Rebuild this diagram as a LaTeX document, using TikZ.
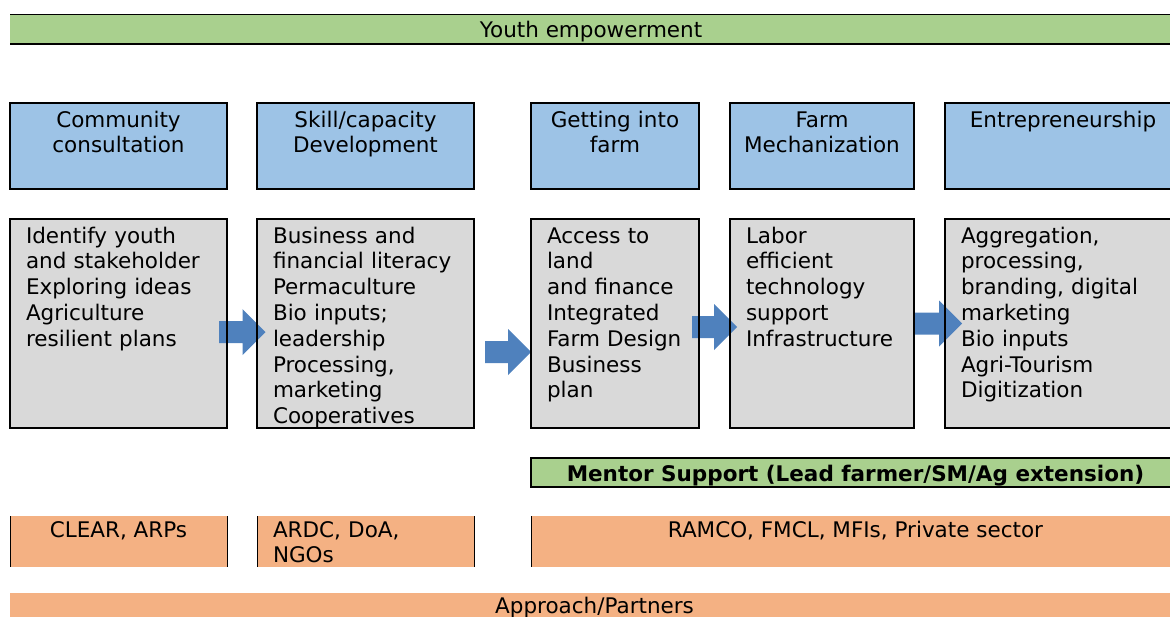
\documentclass[tikz,border=0pt]{standalone}
\usepackage{fontspec}
\setmainfont{DejaVu Sans}
\usetikzlibrary{calc}
\definecolor{bargreen}{HTML}{A9D08E}
\definecolor{headblue}{HTML}{9DC3E6}
\definecolor{bodygray}{HTML}{D9D9D9}
\definecolor{partorange}{HTML}{F4B183}
\definecolor{arrowblue}{HTML}{4F81BD}
\newcommand{\blockarr}[2]{%
  \fill[arrowblue] let \p1=(#1), \p2=(#2) in
    (\x1,\y1+11pt) -- (\x2-23pt,\y1+11pt) -- (\x2-23pt,\y1+23pt) -- (\x2,\y1)
    -- (\x2-23pt,\y1-23pt) -- (\x2-23pt,\y1-11pt) -- (\x1,\y1-11pt) -- cycle;}
\begin{document}
\begin{tikzpicture}[x=1pt,y=-1pt,
  box/.style={rectangle, inner sep=0pt, outer sep=0pt, anchor=north west, draw=none},
  headbox/.style={box, fill=headblue, minimum height=86},
  bodybox/.style={box, fill=bodygray, minimum height=209},
  partbox/.style={box, fill=partorange, minimum height=51},
  border/.style={draw=black, line width=1.4pt},
  txt/.style={inner sep=0pt, outer sep=0pt, font=\fontsize{21.5}{25.8}\selectfont},
  headtext/.style={txt, anchor=base, text width=230, align=center},
  bodytext/.style={txt, anchor=base west, text width=215, align=left},
  side/.style={draw=black, line width=0.8pt}]
\useasboundingbox (0,0) rectangle (1170,616);
\clip (0,0) rectangle (1170,616);

% top bar
\node[box, fill=bargreen, minimum width=1170, minimum height=30] (top) at (10,14) {};
\draw[line width=1pt] (top.north west) -- (top.north east);
\draw[line width=1.2pt] (top.south west) -- (top.south east);
\node[txt, anchor=base] (topt) at (591,37) {Youth empowerment};

% stage boxes
\foreach \n/\x/\w in {1/10/217, 2/257/217, 3/531/168, 4/730/184, 5/945/236} {
  \node[headbox, minimum width=\w] (h\n) at (\x,103) {};
  \node[bodybox, minimum width=\w] (g\n) at (\x,219) {};
}

% block arrows between the detail boxes
\coordinate (a1s) at ($(g1.east)+(-8,8.5)$);
\coordinate (a1e) at ($(g2.west)+(8.5,8.5)$);
\coordinate (a2s) at ($(g2.east)+(11,28.5)$);
\coordinate (a2e) at ($(g3.west)+(0,28.5)$);
\coordinate (a3s) at ($(g3.east)+(-7,3.5)$);
\coordinate (a3e) at ($(g4.west)+(7,3.5)$);
\coordinate (a4s) at ($(g4.east)+(0,0)$);
\coordinate (a4e) at ($(g5.west)+(17,0)$);
\blockarr{a1s}{a1e}
\blockarr{a2s}{a2e}
\blockarr{a3s}{a3e}
\blockarr{a4s}{a4e}

% borders on top
\foreach \n in {1,...,5} {
  \draw[border] (h\n.south west) rectangle (h\n.north east);
  \draw[border] (g\n.south west) rectangle (g\n.north east);
}

% header texts
\node[headtext] (h1t) at ($(h1.north)+(0,24)$) {Community\\consultation};
\node[headtext] (h2t) at ($(h2.north)+(0,24)$) {Skill/capacity\\Development};
\node[headtext] (h3t) at ($(h3.north)+(0,24)$) {Getting into\\farm};
\node[headtext] (h4t) at ($(h4.north)+(0,24)$) {Farm\\Mechanization};
\node[headtext] (h5t) at ($(h5.north)+(0,24)$) {Entrepreneurship};

% body texts
\node[bodytext] (g1t) at ($(g1.north west)+(16,24)$) {Identify youth\\and stakeholder\\Exploring ideas\\Agriculture\\resilient plans};
\node[bodytext] (g2t) at ($(g2.north west)+(16,24)$) {Business and\\financial literacy\\Permaculture\\Bio inputs;\\leadership\\Processing,\\marketing\\Cooperatives};
\node[bodytext] (g3t) at ($(g3.north west)+(16,24)$) {Access to\\land\\and finance\\Integrated\\Farm Design\\Business\\plan};
\node[bodytext] (g4t) at ($(g4.north west)+(16,24)$) {Labor\\efficient\\technology\\support\\Infrastructure};
\node[bodytext] (g5t) at ($(g5.north west)+(16,24)$) {Aggregation,\\processing,\\branding, digital\\marketing\\Bio inputs\\Agri-Tourism\\Digitization};

% mentor support
\node[box, fill=bargreen, minimum width=649, minimum height=29] (mentor) at (531,458) {};
\draw[line width=1.6pt] (mentor.south west) rectangle (mentor.north east);
\node[txt, anchor=base, font=\fontsize{21.5}{25}\selectfont\bfseries] (mentort) at ($(mentor.north)+(0,23)$) {Mentor Support (Lead farmer/SM/Ag extension)};

% partners
\node[partbox, minimum width=217] (p1) at (10,516) {};
\node[partbox, minimum width=217] (p2) at (257,516) {};
\node[partbox, minimum width=649] (p3) at (531,516) {};
\foreach \n in {1,2,3} {
  \draw[side] (p\n.north west) -- (p\n.south west);
  \draw[side] (p\n.north east) -- (p\n.south east);
}
\node[txt, anchor=base] (p1t) at ($(p1.north)+(0,21)$) {CLEAR, ARPs};
\node[bodytext] (p2t) at ($(p2.north west)+(16,21)$) {ARDC, DoA,\\NGOs};
\node[txt, anchor=base] (p3t) at ($(p3.north)+(0,21)$) {RAMCO, FMCL, MFIs, Private sector};

% bottom bar
\node[box, fill=partorange, minimum width=1170, minimum height=30] (bottom) at (10,593) {};
\node[txt, anchor=base] (bottomt) at (594.5,613) {Approach/Partners};
\end{tikzpicture}
\end{document}
